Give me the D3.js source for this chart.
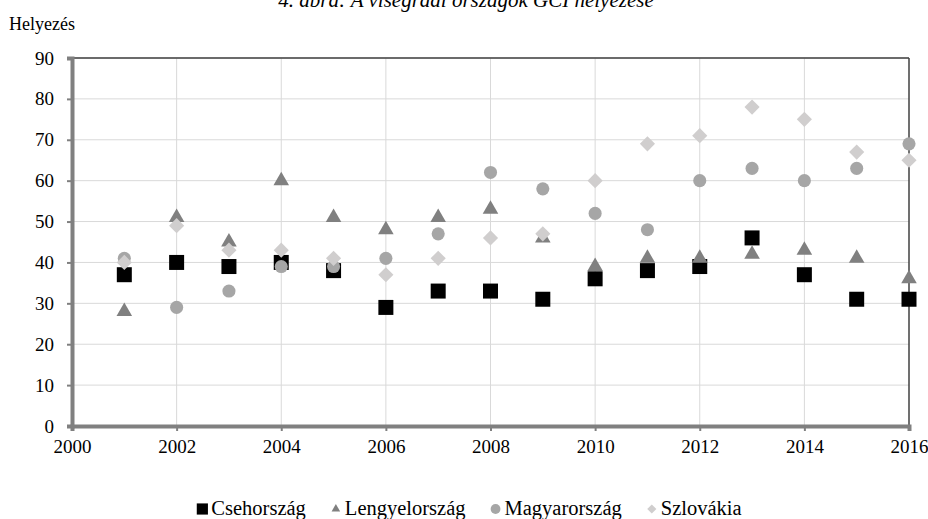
<!DOCTYPE html>
<html>
<head>
<meta charset="utf-8">
<script src="https://cdn.jsdelivr.net/npm/d3@7"></script>
<style>
  body { margin: 0; background: #fff; }
</style>
</head>
<body>
<svg id="chart" width="928" height="519"></svg>
<script>
// data
const years = [2001, 2002, 2003, 2004, 2005, 2006, 2007, 2008, 2009, 2010, 2011, 2012, 2013, 2014, 2015, 2016];
const cseh = [37, 40, 39, 40, 38, 29, 33, 33, 31, 36, 38, 39, 46, 37, 31, 31];
const lengyel = [28, 51, 45, 60, 51, 48, 51, 53, 46, 39, 41, 41, 42, 43, 41, 36];
const magyar = [41, 29, 33, 39, 39, 41, 47, 62, 58, 52, 48, 60, 63, 60, 63, 69];
const szlovak = [40, 49, 43, 43, 41, 37, 41, 46, 47, 60, 69, 71, 78, 75, 67, 65];
const xTicks = [2000, 2002, 2004, 2006, 2008, 2010, 2012, 2014, 2016];
const yTicks = [0, 10, 20, 30, 40, 50, 60, 70, 80, 90];

const FONT = "Liberation Serif, Times New Roman, serif";

// rotated square for the diamond marker
const squareDiamond = {
  draw(ctx, size) {
    const r = Math.sqrt(size / 2);
    ctx.moveTo(0, -r); ctx.lineTo(r, 0); ctx.lineTo(0, r); ctx.lineTo(-r, 0); ctx.closePath();
  }
};

const series = [
  { name: "Csehország", values: cseh, symbol: d3.symbolSquare, size: 225, legSize: 125, color: "#000000" },
  { name: "Lengyelország", values: lengyel, symbol: d3.symbolTriangle, size: 105, legSize: 32, color: "#808080" },
  { name: "Magyarország", values: magyar, symbol: d3.symbolCircle, size: 135, legSize: 75, color: "#a6a6a6" },
  { name: "Szlovákia", values: szlovak, symbol: squareDiamond, size: 115, legSize: 42, color: "#d0cece" }
];

const svg = d3.select("#chart").attr("font-family", FONT);
const mLeft = 72, mRight = 909, mTop = 58, mBottom = 426;

const x = d3.scaleLinear().domain([2000, 2016]).range([mLeft, mRight]);
const y = d3.scaleLinear().domain([0, 90]).range([mBottom, mTop]);

// title (cut off at top, as in the source)
svg.append("text")
  .attr("x", 466).attr("y", 7)
  .attr("text-anchor", "middle")
  .attr("font-style", "italic")
  .attr("font-size", 21)
  .text("4. ábra: A visegrádi országok GCI helyezése");

svg.append("text")
  .attr("x", 9).attr("y", 30)
  .attr("font-size", 18)
  .text("Helyezés");

// grid
svg.append("g").selectAll("line")
  .data(yTicks.slice(1))
  .join("line")
  .attr("x1", mLeft).attr("x2", mRight)
  .attr("y1", d => y(d)).attr("y2", d => y(d))
  .attr("stroke", "#d9d9d9").attr("stroke-width", 1);

svg.append("g").selectAll("line")
  .data(xTicks.slice(1, -1))
  .join("line")
  .attr("x1", d => x(d)).attr("x2", d => x(d))
  .attr("y1", mTop).attr("y2", mBottom)
  .attr("stroke", "#d9d9d9").attr("stroke-width", 1);

// top and right border
svg.append("line")
  .attr("x1", mLeft).attr("x2", mRight).attr("y1", mTop).attr("y2", mTop)
  .attr("stroke", "#404040").attr("stroke-width", 1.5);
svg.append("line")
  .attr("x1", mRight).attr("x2", mRight).attr("y1", mTop).attr("y2", mBottom)
  .attr("stroke", "#404040").attr("stroke-width", 1.5);

// axes
const yAxis = svg.append("g")
  .attr("transform", `translate(${mLeft},0)`)
  .call(d3.axisLeft(y).tickValues(yTicks).tickSize(5).tickPadding(13));
const xAxis = svg.append("g")
  .attr("transform", `translate(0,${mBottom})`)
  .call(d3.axisBottom(x).tickValues(xTicks).tickFormat(d3.format("d")).tickSize(5).tickPadding(9));

[yAxis, xAxis].forEach(g => {
  g.attr("font-family", FONT).attr("font-size", 19);
  g.select(".domain").attr("stroke", "#808080").attr("stroke-width", 4);
  g.selectAll(".tick line").attr("stroke", "#808080").attr("stroke-width", 2);
  g.selectAll("text").attr("fill", "#000");
});

// points
series.forEach(s => {
  svg.append("g").selectAll("path")
    .data(years.map((yr, i) => [yr, s.values[i]]))
    .join("path")
    .attr("transform", d => `translate(${x(d[0])},${y(d[1])})`)
    .attr("d", d3.symbol().type(s.symbol).size(s.size))
    .attr("fill", s.color);
});

// legend, laid out from measured text widths and centred under the plot
const legend = svg.append("g");
const markW = 12, markGap = 3, itemGap = 24, legendCenter = 469;
const items = series.map(s => {
  const g = legend.append("g");
  g.append("path")
    .attr("transform", `translate(${markW / 2},-6)`)
    .attr("d", d3.symbol().type(s.symbol).size(s.legSize))
    .attr("fill", s.color);
  const t = g.append("text")
    .attr("x", markW + markGap).attr("y", 0)
    .attr("font-size", 20.5)
    .text(s.name);
  return { g, w: markW + markGap + t.node().getComputedTextLength() };
});
const total = d3.sum(items, d => d.w) + itemGap * (items.length - 1);
let cx = legendCenter - total / 2;
items.forEach(it => {
  it.g.attr("transform", `translate(${cx},515)`);
  cx += it.w + itemGap;
});
</script>
</body>
</html>
